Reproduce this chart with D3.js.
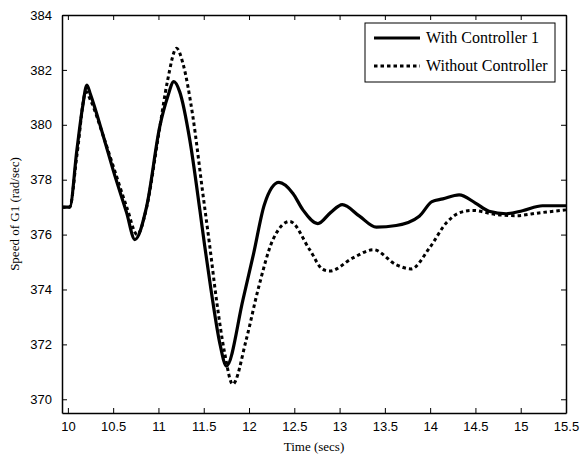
<!DOCTYPE html>
<html>
<head>
<meta charset="utf-8">
<script src="https://cdn.jsdelivr.net/npm/d3@7"></script>
<style>
  body { margin: 0; background: #fff; }
  svg { display: block; }
</style>
</head>
<body>
<script>
var w = 584;
var h = 458;

// with controller 1 (solid)
var tWith = [9.935, 10.02, 10.1, 10.16, 10.21, 10.25, 10.39, 10.5, 10.648, 10.74, 10.87, 11.015, 11.1, 11.17,
  11.235, 11.346, 11.457, 11.51, 11.58, 11.68, 11.75, 11.934, 12.05, 12.17, 12.33, 12.485, 12.595, 12.76,
  12.9, 13.03, 13.22, 13.405, 13.625, 13.88, 14.02, 14.14, 14.32, 14.5, 14.65, 14.84, 15.02, 15.24, 15.5];
var vWith = [377.0, 377.0, 379.1, 380.6, 381.45, 381.1, 379.6, 378.35, 376.8, 375.82, 377.03, 379.94, 381.0, 381.57,
  381.2, 379.45, 376.9, 375.6, 374.0, 372.0, 371.21, 373.64, 375.3, 377.1, 377.9, 377.5, 376.9, 376.4,
  376.8, 377.09, 376.67, 376.27, 376.33, 376.67, 377.2, 377.3, 377.45, 377.15, 376.85, 376.76, 376.87, 377.05, 377.05];

// without controller (dotted)
var tWithout = [9.935, 10.02, 10.1, 10.2, 10.25, 10.39, 10.5, 10.65, 10.765, 10.87, 11.0, 11.1, 11.2,
  11.27, 11.38, 11.49, 11.567, 11.64, 11.73, 11.82, 11.97, 12.1, 12.265, 12.45, 12.67, 12.815, 12.89,
  13.147, 13.375, 13.625, 13.79, 13.99, 14.18, 14.32, 14.47, 14.73, 14.95, 15.2, 15.5];
var vWithout = [377.0, 377.0, 378.9, 381.2, 380.9, 379.6, 378.5, 377.0, 376.0, 377.0, 379.6, 381.6, 382.79,
  382.24, 380.3, 377.5, 375.57, 373.64, 371.7, 370.55, 372.18, 374.0, 375.82, 376.48, 375.45, 374.73, 374.67,
  375.15, 375.45, 374.9, 374.75, 375.5, 376.43, 376.79, 376.88, 376.73, 376.69, 376.79, 376.9];

var xTicks = [10, 10.5, 11, 11.5, 12, 12.5, 13, 13.5, 14, 14.5, 15, 15.5];
var yTicks = [370, 372, 374, 376, 378, 380, 382, 384];
var seriesNames = ["With Controller 1", "Without Controller"];

var pLeft = 62, pRight = 566, pTop = 15, pBottom = 413;

var x = d3.scaleLinear().domain([9.935, 15.5]).range([pLeft, pRight]);
var y = d3.scaleLinear().domain([369.5, 384]).range([pBottom, pTop]);

var svg = d3.select("body").append("svg")
  .attr("width", w)
  .attr("height", h);

// axes, ticks inward on all four sides (matlab style box)
var tickFont = "'Liberation Sans', Arial, sans-serif";

var gB = svg.append("g").attr("transform", "translate(0," + pBottom + ")")
  .call(d3.axisBottom(x).tickValues(xTicks).tickSizeInner(-5).tickSizeOuter(0).tickPadding(9).tickFormat(d3.format("")));
var gT = svg.append("g").attr("transform", "translate(0," + pTop + ")")
  .call(d3.axisTop(x).tickValues(xTicks).tickSizeInner(-5).tickSizeOuter(0).tickFormat(""));
var gL = svg.append("g").attr("transform", "translate(" + pLeft + ",0)")
  .call(d3.axisLeft(y).tickValues(yTicks).tickSizeInner(-5).tickSizeOuter(0).tickPadding(10));
var gR = svg.append("g").attr("transform", "translate(" + pRight + ",0)")
  .call(d3.axisRight(y).tickValues(yTicks).tickSizeInner(-5).tickSizeOuter(0).tickFormat(""));

[gB, gT, gL, gR].forEach(function(g) {
  g.select(".domain").attr("stroke", "#000").attr("stroke-width", 1.5);
  g.selectAll(".tick line").attr("stroke", "#000");
  g.selectAll("text").attr("font-family", tickFont).attr("font-size", 13).attr("fill", "#000");
});

var line = d3.line()
  .x(function(d) { return x(d[0]); })
  .y(function(d) { return y(d[1]); })
  .curve(d3.curveMonotoneX);

var dWithout = d3.zip(tWithout, vWithout);
var dWith = d3.zip(tWith, vWith);

svg.append("path")
  .datum(dWithout)
  .attr("d", line)
  .attr("fill", "none")
  .attr("stroke", "#000")
  .attr("stroke-width", 3)
  .attr("stroke-dasharray", "3.5,3");

svg.append("path")
  .datum(dWith)
  .attr("d", line)
  .attr("fill", "none")
  .attr("stroke", "#000")
  .attr("stroke-width", 3.2)
  .attr("stroke-linejoin", "round");

// axis labels
var serif = "'Liberation Serif', 'Times New Roman', serif";
svg.append("text")
  .attr("x", 314).attr("y", 451)
  .attr("text-anchor", "middle")
  .attr("font-family", serif).attr("font-size", 13)
  .text("Time (secs)");

svg.append("text")
  .attr("transform", "translate(19,214) rotate(-90)")
  .attr("text-anchor", "middle")
  .attr("font-family", serif).attr("font-size", 13)
  .text("Speed of G1 (rad/sec)");

// legend
var lg = svg.append("g");
lg.append("rect")
  .attr("x", 365).attr("y", 23).attr("width", 190).attr("height", 59)
  .attr("fill", "#fff").attr("stroke", "#000").attr("stroke-width", 1);

seriesNames.forEach(function(name, i) {
  var yy = 38 + i * 28;
  lg.append("line")
    .attr("x1", 374).attr("x2", 420).attr("y1", yy).attr("y2", yy)
    .attr("stroke", "#000").attr("stroke-width", 3)
    .attr("stroke-dasharray", i == 1 ? "3.5,3" : null);
  lg.append("text")
    .attr("x", 426).attr("y", yy + 5)
    .attr("font-family", serif).attr("font-size", 16)
    .text(name);
});
</script>
</body>
</html>
